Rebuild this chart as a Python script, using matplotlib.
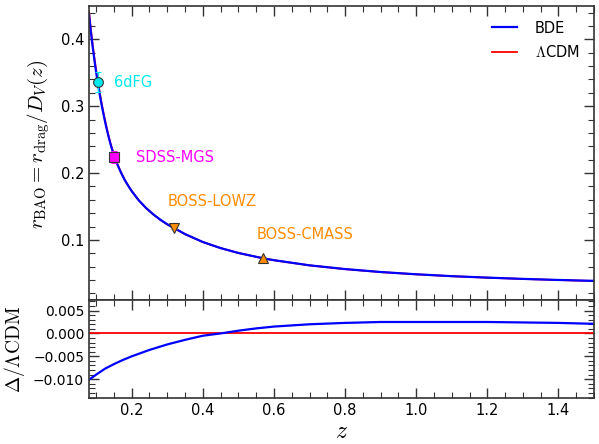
import matplotlib
matplotlib.use("Agg")
import matplotlib.pyplot as plt
from matplotlib.ticker import MultipleLocator

plt.rcParams['mathtext.fontset'] = 'cm'
plt.rcParams['font.family'] = 'DejaVu Sans'

# r_BAO curves
z_curve = [0.08, 0.085, 0.09, 0.095, 0.10, 0.105, 0.11, 0.115, 0.12, 0.125, 0.13, 0.135,
           0.14, 0.145, 0.15, 0.16, 0.17, 0.18, 0.19, 0.20, 0.22, 0.24, 0.26, 0.28, 0.30,
           0.32, 0.35, 0.40, 0.45, 0.50, 0.57, 0.60, 0.70, 0.80, 0.90, 1.00, 1.10, 1.20,
           1.30, 1.40, 1.50]
r_bde = [0.4375, 0.4124, 0.3900, 0.3697, 0.3510, 0.3340, 0.3182, 0.3035, 0.2900, 0.2772,
         0.2654, 0.2544, 0.2443, 0.2352, 0.2267, 0.2125, 0.2006, 0.1900, 0.1811, 0.1730,
         0.1591, 0.1479, 0.1385, 0.1304, 0.1233, 0.1175, 0.1087, 0.0968, 0.0877, 0.0804,
         0.0724, 0.0696, 0.0619, 0.0563, 0.0519, 0.0485, 0.0457, 0.0435, 0.0416, 0.0400,
         0.0386]
r_lcdm = [0.4419, 0.4164, 0.3936, 0.3729, 0.3539, 0.3366, 0.3205, 0.3055, 0.2918, 0.2788,
          0.2668, 0.2556, 0.2453, 0.2361, 0.2275, 0.2131, 0.2010, 0.1903, 0.1813, 0.1731,
          0.1591, 0.1478, 0.1384, 0.1302, 0.1231, 0.1173, 0.1085, 0.0967, 0.0877, 0.0804,
          0.0723, 0.0695, 0.0618, 0.0562, 0.0518, 0.0484, 0.0456, 0.0434, 0.0415, 0.0399,
          0.0385]

# relative difference BDE vs LCDM
z_delta = [0.08, 0.10, 0.125, 0.15, 0.175, 0.20, 0.25, 0.30, 0.35, 0.40, 0.45, 0.50, 0.55,
           0.60, 0.70, 0.80, 0.90, 1.00, 1.10, 1.20, 1.30, 1.40, 1.50]
delta = [-0.0101, -0.0090, -0.0077, -0.0067, -0.0058, -0.0050, -0.0036, -0.0024, -0.0014,
         -0.0005, 0.0000, 0.0006, 0.0011, 0.0015, 0.0020, 0.0023, 0.0025, 0.0025, 0.0025,
         0.0025, 0.0024, 0.0023, 0.0021]

# BAO measurements
names = ['6dFG', 'SDSS-MGS', 'BOSS-LOWZ', 'BOSS-CMASS']
z_data = [0.106, 0.15, 0.32, 0.57]
r_data = [0.336, 0.2239, 0.1181, 0.0726]
r_err = [0.015, 0.0084, 0.0022, 0.0007]
colors = ['#00e8ee', '#ff00ff', '#ff8c00', '#ff8c00']
markers = ['o', 's', 'v', '^']
label_pos = [(0.15, 0.336), (0.213, 0.2235), (0.302, 0.158), (0.551, 0.1085)]

fig = plt.figure(figsize=(5.99, 4.44), dpi=100)
ax1 = fig.add_axes([0.1486, 0.3243, 0.8431, 0.6622])
ax2 = fig.add_axes([0.1486, 0.1036, 0.8431, 0.2207], sharex=ax1)

ax1.plot(z_curve, r_lcdm, color='red', lw=1.3, label=r'$\Lambda$CDM')
ax1.plot(z_curve, r_bde, color='blue', lw=1.6, label='BDE')

for i in range(len(names)):
    ax1.errorbar(z_data[i], r_data[i], yerr=r_err[i], fmt=markers[i], color=colors[i],
                 mfc=colors[i], mec='#333333', mew=0.8, ms=7, capsize=2, elinewidth=1, zorder=5)
    ax1.text(label_pos[i][0], label_pos[i][1], names[i], color=colors[i], fontsize=10.5,
             ha='left', va='center')

handles, labels = ax1.get_legend_handles_labels()
ax1.legend(handles[::-1], labels[::-1], loc='upper right', frameon=False, fontsize=10.5,
           handlelength=1.7, handletextpad=1.2, borderaxespad=0.6, labelspacing=0.6)

ax1.set_xlim(0.08, 1.5)
ax1.set_ylim(0.01, 0.45)
ax1.set_ylabel(r'$r_{\rm BAO} = r_{\rm drag}/D_V(z)$', fontsize=15)
ax1.yaxis.set_major_locator(MultipleLocator(0.1))
ax1.yaxis.set_minor_locator(MultipleLocator(0.02))
plt.setp(ax1.get_xticklabels(), visible=False)

ax2.plot([0.08, 1.5], [0, 0], color='red', lw=1.3)
ax2.plot(z_delta, delta, color='blue', lw=1.6)
ax2.set_ylim(-0.0141, 0.0073)
ax2.set_ylabel(r'$\Delta/\Lambda{\rm CDM}$', fontsize=14)
ax2.set_xlabel(r'$z$', fontsize=17, labelpad=1)
ax2.yaxis.set_major_locator(MultipleLocator(0.005))
ax2.yaxis.set_minor_locator(MultipleLocator(0.001))
ax2.xaxis.set_major_locator(MultipleLocator(0.2))
ax2.xaxis.set_minor_locator(MultipleLocator(0.05))

for ax in (ax1, ax2):
    for s in ax.spines.values():
        s.set_linewidth(1.2)
        s.set_color('#333333')
    ax.tick_params(which='both', direction='in', top=True, right=True, labelsize=10.5,
                   color='#333333')
    ax.tick_params(which='major', length=7, width=1)
    ax.tick_params(which='minor', length=4, width=0.8)

ax2.tick_params(axis='y', labelsize=10)
ax1.yaxis.set_label_coords(-0.073, 0.53)
ax2.yaxis.set_label_coords(-0.122, 0.5)

fig.savefig('out.png', dpi=100)
